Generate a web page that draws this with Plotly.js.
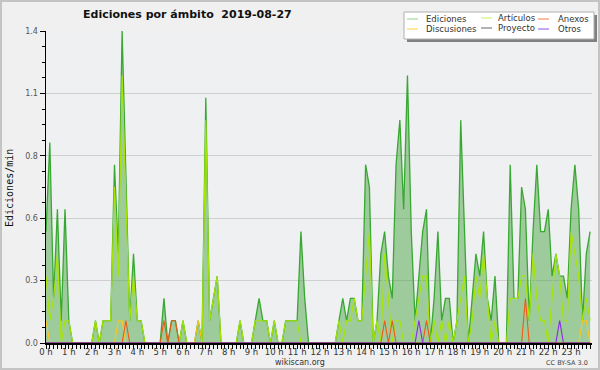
<!DOCTYPE html>
<html><head><meta charset="utf-8">
<script src="https://cdn.plot.ly/plotly-3.0.1.min.js"></script>
<style>html,body{margin:0;padding:0;background:#f0f0f0}#wrap{position:relative;width:600px;height:370px}#chart{width:600px;height:370px}#frame{position:absolute;left:0;top:0;width:600px;height:370px;box-sizing:border-box;border:2px solid #c4c4c4;pointer-events:none}</style>
</head><body><div id="wrap"><div id="chart"></div><div id="frame"></div></div>
<script>
// one value every 10 minutes (edits per minute), 00:00 .. 23:50
const hourLabels = ['0 h','1 h','2 h','3 h','4 h','5 h','6 h','7 h','8 h','9 h','10 h','11 h','12 h','13 h','14 h','15 h','16 h','17 h','18 h','19 h','20 h','21 h','22 h','23 h'];
const ediciones = [
 0.5,0.9,0.2,0.6,0.1,0.6,0.1,0,0,0,
 0,0,0,0.1,0,0.1,0.1,0.1,0.8,0.4,
 1.4,0.7,0.1,0.4,0.1,0.1,0,0,0,0,
 0,0.2,0,0.1,0.1,0,0.1,0,0,0,
 0.1,0,1.1,0.1,0.2,0.3,0,0,0,0,
 0,0.1,0,0,0,0.1,0.2,0.1,0.1,0,
 0.1,0,0,0.1,0.1,0.1,0.1,0.5,0.2,0,
 0,0,0,0,0,0,0,0.1,0.2,0.1,
 0.2,0.2,0.1,0.1,0.8,0.7,0,0.1,0.4,0.5,
 0.3,0.2,0.8,1.0,0.6,1.2,0.5,0.1,0.3,0.5,
 0.6,0,0.2,0.5,0.1,0.2,0.2,0,0.1,1.0,
 0.5,0,0.2,0.4,0.3,0.5,0.2,0.1,0.3,0,
 0,0,0.8,0.2,0.2,0.7,0.6,0.1,0.5,0.8,
 0.5,0.5,0.6,0.3,0.4,0.3,0.3,0.2,0.6,0.8,
 0.6,0.1,0.4,0.5];
const articulos = [
 0.3,0.1,0.2,0.4,0,0.1,0.1,0,0,0,
 0,0,0,0.1,0,0.1,0.1,0.1,0.7,0.3,
 1.2,0.6,0.1,0.3,0.1,0.1,0,0,0,0,
 0,0,0,0,0,0,0.1,0,0,0,
 0,0,1.0,0.1,0.2,0.3,0,0,0,0,
 0,0.1,0,0,0,0.1,0.1,0.1,0.1,0,
 0.1,0,0,0.1,0.1,0.1,0.1,0,0,0,
 0,0,0,0,0,0,0,0.1,0,0.1,
 0.1,0.2,0.1,0.1,0.3,0.5,0,0.1,0,0.4,
 0.2,0,0.1,0.1,0,0,0,0.1,0.2,0.3,
 0.3,0,0.1,0,0.1,0,0.1,0,0.1,0.2,
 0.3,0,0.1,0.3,0.2,0.4,0.2,0,0.1,0,
 0,0,0.2,0.2,0.2,0.3,0.3,0.1,0.4,0.2,
 0.1,0.1,0,0.2,0.4,0.3,0.1,0.1,0.5,0.4,
 0.3,0.1,0.2,0.1];
const discusiones = [
 0.1,0,0,0,0,0,0,0,0,0,
 0,0,0,0,0,0,0,0,0,0.1,
 0.1,0,0,0,0,0,0,0,0,0,
 0,0,0,0,0,0,0,0,0,0,
 0.1,0,0,0,0,0,0,0,0,0,
 0,0,0,0,0,0,0,0,0,0,
 0,0,0,0,0,0,0,0,0,0,
 0,0,0,0,0,0,0,0,0,0,
 0,0,0,0,0,0,0,0,0,0,
 0,0,0,0,0,0,0,0,0,0,
 0,0,0,0,0,0,0,0,0,0,
 0,0,0,0,0,0,0,0,0,0,
 0,0,0,0,0,0,0,0,0,0,
 0,0,0,0,0,0,0,0,0,0,
 0,0.1,0.1,0];
const anexos = [
 0,0,0,0,0,0,0,0,0,0,
 0,0,0,0,0,0,0,0,0,0,
 0,0.1,0,0,0,0,0,0,0,0,
 0,0.1,0,0.1,0.1,0,0,0,0,0,
 0,0,0,0,0,0,0,0,0,0,
 0,0,0,0,0,0,0,0,0,0,
 0,0,0,0,0,0,0,0,0,0,
 0,0,0,0,0,0,0,0,0,0,
 0,0,0,0,0,0,0,0,0,0.1,
 0,0.1,0,0,0,0,0,0,0,0,
 0.1,0,0,0,0,0,0,0,0,0,
 0,0,0,0,0,0,0,0,0,0,
 0,0,0,0,0,0,0.2,0,0,0,
 0,0,0,0,0,0,0,0,0,0,
 0,0,0,0];
const proyecto = [
 0,0,0,0,0,0,0,0,0,0,
 0,0,0,0,0,0,0,0,0,0,
 0,0,0,0,0,0,0,0,0,0,
 0,0,0,0,0,0,0,0,0,0,
 0,0,0,0,0,0,0,0,0,0,
 0,0,0,0,0,0,0,0,0,0,
 0,0,0,0,0,0,0,0,0,0,
 0,0,0,0,0,0,0,0,0,0,
 0,0,0,0,0,0,0,0,0,0,
 0,0,0,0,0,0,0,0,0,0,
 0,0,0,0,0,0,0,0,0,0,
 0,0,0,0,0,0,0,0,0,0,
 0,0,0,0,0,0,0,0,0,0,
 0,0,0,0,0,0,0,0,0,0,
 0,0,0,0];
const otros = [
 0,0,0,0,0,0,0,0,0,0,
 0,0,0,0,0,0,0,0,0,0,
 0,0,0,0,0,0,0,0,0,0,
 0,0,0,0,0,0,0,0,0,0,
 0,0,0,0,0,0,0,0,0,0,
 0,0,0,0,0,0,0,0,0,0,
 0,0,0,0,0,0,0,0,0,0,
 0,0,0,0,0,0,0,0,0,0,
 0,0,0,0,0,0,0,0,0,0,
 0,0,0,0,0,0,0,0,0.1,0,
 0,0,0,0,0,0,0,0,0,0,
 0,0,0,0,0,0,0,0,0,0,
 0,0,0,0,0,0,0,0,0,0,
 0,0,0,0,0,0.1,0,0,0,0,
 0,0,0,0];
const yTickVals = [0,0.28,0.56,0.84,1.12,1.4];
const yTickText = ['0.0','0.3','0.6','0.8','1.1','1.4'];

const t = ediciones.map((_, i) => i / 6);   // time of day in hours
const hourVals = hourLabels.map((_, h) => h);

const series = [
  {name:'Ediciones', y:ediciones, color:'#38a832', fill:true},
  {name:'Artículos', y:articulos, color:'#a6e600'},
  {name:'Discusiones', y:discusiones, color:'#ffc61a'},
  {name:'Anexos', y:anexos, color:'#f05a14'},
  {name:'Proyecto', y:proyecto, color:'#555555'},
  {name:'Otros', y:otros, color:'#8a2be2'}
];
const traces = series.map(s => ({
  x: t, y: s.y, name: s.name, type: 'scatter', mode: 'lines',
  line: {color: s.color, width: s.fill ? 1.3 : 1.1},
  fill: s.fill ? 'tozeroy' : 'none',
  fillcolor: 'rgba(77,166,70,0.5)',
  hoverinfo: 'skip', showlegend: false
}));

// pixel -> paper helpers (plot area 46..592 x 31..343)
const L = 46, T = 31, W = 546, H = 312;
const px = x => (x - L) / W;
const py = y => (T + H - y) / H;

const legendItems = [
  {name:'Ediciones', color:'#8fd08f', lx:407, tx:424, y:19},
  {name:'Discusiones', color:'#ffd23c', lx:407, tx:424, y:29},
  {name:'Artículos', color:'#c8f060', lx:481, tx:496, y:18},
  {name:'Proyecto', color:'#666666', lx:481, tx:496, y:28},
  {name:'Anexos', color:'#f87a48', lx:538, tx:556, y:19},
  {name:'Otros', color:'#9050f0', lx:538, tx:556, y:29}
];

const shapes = [
  {type:'rect', xref:'paper', yref:'paper', x0:px(407), x1:px(597), y0:py(15), y1:py(42), fillcolor:'#808080', line:{width:0}, layer:'above'},
  {type:'rect', xref:'paper', yref:'paper', x0:px(404), x1:px(594), y0:py(12), y1:py(39), fillcolor:'#ffffff', line:{color:'#b0b0b0', width:1}, layer:'above'}
];
const annotations = [
  {text:'Ediciones por ámbito\u00a0\u00a02019-08-27', x:px(187), y:py(15), xref:'paper', yref:'paper', showarrow:false, xanchor:'center', yanchor:'middle', font:{family:'DejaVu Sans', size:11, color:'#111', weight:'bold'}},
  {text:'Ediciones/min', x:px(9), y:py(188), xref:'paper', yref:'paper', showarrow:false, textangle:-90, xanchor:'center', yanchor:'middle', font:{family:'DejaVu Sans Mono', size:10, color:'#111'}},
  {text:'wikiscan.org', x:px(300), y:py(362), xref:'paper', yref:'paper', showarrow:false, xanchor:'center', yanchor:'middle', font:{family:'DejaVu Sans', size:8, color:'#333'}},
  {text:'CC BY-SA 3.0', x:px(590), y:py(363), xref:'paper', yref:'paper', showarrow:false, xanchor:'right', yanchor:'middle', font:{family:'DejaVu Sans', size:6.5, color:'#444'}}
];
legendItems.forEach(it => {
  shapes.push({type:'line', xref:'paper', yref:'paper', x0:px(it.lx), x1:px(it.lx+11), y0:py(it.y), y1:py(it.y), line:{color:it.color, width:1}, layer:'above'});
  annotations.push({text:it.name, x:px(it.tx), y:py(it.y), xref:'paper', yref:'paper', showarrow:false, xanchor:'left', yanchor:'middle', font:{family:'DejaVu Sans', size:8.5, color:'#333'}});
});

const layout = {
  width:600, height:370,
  margin:{l:L, r:600-L-W, t:T, b:370-T-H, pad:0},
  paper_bgcolor:'#f0f0f0', plot_bgcolor:'#eff0f2',
  showlegend:false,
  xaxis:{range:[0, 143.5/6], tickmode:'array', tickvals:hourVals, ticktext:hourLabels,
    ticks:'outside', ticklen:4, tickwidth:1, tickcolor:'#000', ticklabelstandoff:-4,
    minor:{tickmode:'linear', tick0:0, dtick:1/6, ticks:'outside', ticklen:4, tickwidth:1, tickcolor:'#000', showgrid:false},
    showline:true, linecolor:'#000', linewidth:2, showgrid:false, zeroline:false,
    tickfont:{family:'DejaVu Sans', size:8.5, color:'#333'}, fixedrange:true},
  yaxis:{range:[0,1.4], tickmode:'array', tickvals:yTickVals, ticktext:yTickText,
    ticks:'outside', ticklen:5, tickwidth:1, tickcolor:'#000',
    minor:{tickmode:'linear', tick0:0, dtick:0.07, ticks:'outside', ticklen:3, tickwidth:1, tickcolor:'#000', showgrid:false},
    showline:true, linecolor:'#000', linewidth:1.5, showgrid:true, gridcolor:'#cfcfcf', gridwidth:1, zeroline:false,
    tickfont:{family:'DejaVu Sans', size:8, color:'#555'}, fixedrange:true},
  shapes:shapes, annotations:annotations
};
Plotly.newPlot('chart', traces, layout, {staticPlot:true, displayModeBar:false});
</script></body></html>
